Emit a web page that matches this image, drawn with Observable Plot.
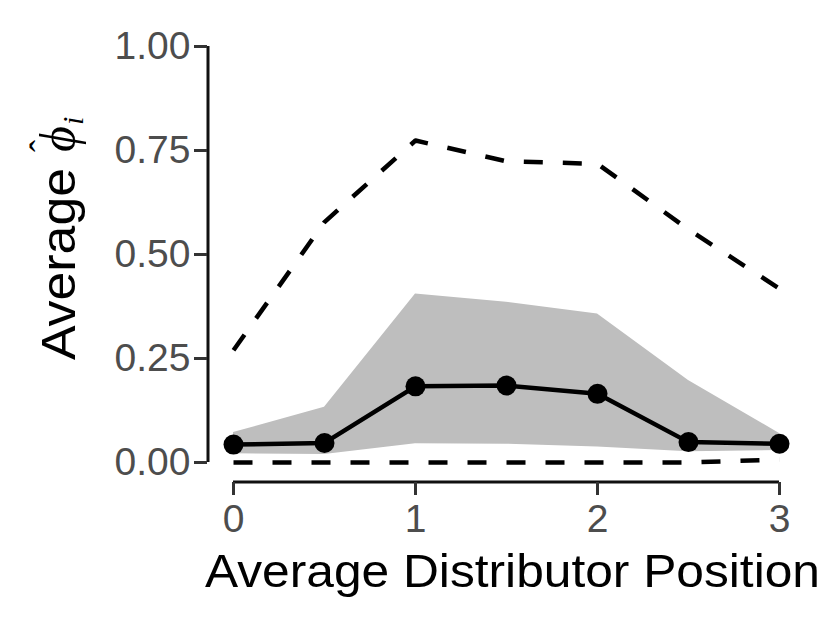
<!DOCTYPE html>
<html><head><meta charset="utf-8">
<script src="https://cdn.jsdelivr.net/npm/d3@7"></script>
<script src="https://cdn.jsdelivr.net/npm/@observablehq/plot@0.6"></script>
<style>body{margin:0;background:#fff}</style>
</head><body><div id="chart"></div>
<script>
const positions = [0, 0.5, 1, 1.5, 2, 2.5, 3];
const meanPhi   = [0.043, 0.047, 0.183, 0.185, 0.165, 0.049, 0.045];
const ribbonLow = [0.021, 0.019, 0.045, 0.044, 0.037, 0.026, 0.029];
const ribbonHigh= [0.072, 0.133, 0.405, 0.385, 0.357, 0.197, 0.070];
const dashLow   = [0, 0, 0, 0, 0, 0, 0.007];
const dashHigh  = [0.270, 0.578, 0.774, 0.724, 0.718, 0.560, 0.418];
const xTicks = [0, 1, 2, 3];
const yTicks = [0, 0.25, 0.5, 0.75, 1];
const xTitle = "Average Distributor Position";
const yTitleWord = "Average";
const yTitleSymbol = "ϕ";
const yTitleHat = "ˆ";
const yTitleSub = "i";

const rows = positions.map((x, i) => ({x, mean: meanPhi[i], lo: ribbonLow[i], hi: ribbonHigh[i], dlo: dashLow[i], dhi: dashHigh[i]}));

const plot = Plot.plot({
  width: 830, height: 624,
  marginLeft: 207, marginBottom: 142, marginTop: 30, marginRight: 30,
  style: {fontFamily: "'Liberation Sans', Arial, Helvetica, sans-serif", background: "white"},
  x: {domain: [0, 3], range: [233, 779]},
  y: {domain: [0, 1], range: [462, 46]},
  marks: [
    Plot.areaY(rows, {x: "x", y1: "lo", y2: "hi", fill: "#bebebe", curve: "linear"}),
    Plot.line(rows, {x: "x", y: "dhi", stroke: "black", strokeWidth: 4.5, strokeDasharray: "19,20", strokeLinecap: "butt", strokeLinejoin: "round"}),
    Plot.line(rows, {x: "x", y: "dlo", stroke: "black", strokeWidth: 4.5, strokeDasharray: "19,20", strokeLinecap: "butt", strokeLinejoin: "round"}),
    Plot.line(rows, {x: "x", y: "mean", stroke: "black", strokeWidth: 4.5, strokeLinecap: "butt"}),
    Plot.dot(rows, {x: "x", y: "mean", r: 10, fill: "black", stroke: "none"}),
    Plot.ruleX([0], {y1: 0, y2: 1, dx: -25.5, stroke: "#111", strokeWidth: 3}),
    Plot.ruleY([0], {x1: 0, x2: 3, dy: 19.5, stroke: "#111", strokeWidth: 3}),
    Plot.axisY({ticks: yTicks, tickFormat: d3.format(".2f"), tickSize: 13, tickPadding: 4, fontSize: 39, stroke: "#333", fill: "#4d4d4d", strokeWidth: 3, label: null}),
    Plot.axisX({ticks: xTicks, tickFormat: d3.format("d"), tickSize: 13, tickPadding: 9, fontSize: 39, stroke: "#333", fill: "#4d4d4d", strokeWidth: 3, label: null})
  ]
});

const svg = d3.select(plot);
svg.append("text")
  .attr("x", 205).attr("y", 587)
  .attr("text-anchor", "start")
  .attr("font-size", 47).attr("fill", "black")
  .attr("textLength", 615).attr("lengthAdjust", "spacingAndGlyphs")
  .text(xTitle);

const t = svg.append("text")
  .attr("transform", "translate(75,360) rotate(-90)")
  .attr("text-anchor", "start")
  .attr("font-size", 48).attr("fill", "black");
t.append("tspan").attr("x", 0).attr("y", 0).attr("textLength", 192).attr("lengthAdjust", "spacingAndGlyphs").text(yTitleWord);
t.append("tspan").attr("x", 221).attr("y", 0).attr("text-anchor", "middle")
  .attr("font-family", "'Liberation Serif', 'DejaVu Serif', serif").attr("font-style", "italic").attr("font-size", 50).text(yTitleSymbol);
t.append("tspan").attr("x", 214).attr("y", -20).attr("text-anchor", "middle")
  .attr("font-family", "'Liberation Serif', 'DejaVu Serif', serif").attr("font-size", 36).text(yTitleHat);
t.append("tspan").attr("x", 235).attr("y", 8).attr("text-anchor", "start")
  .attr("font-family", "'Liberation Serif', 'DejaVu Serif', serif").attr("font-style", "italic").attr("font-size", 30).text(yTitleSub);

document.getElementById("chart").appendChild(plot);
</script>
</body></html>
